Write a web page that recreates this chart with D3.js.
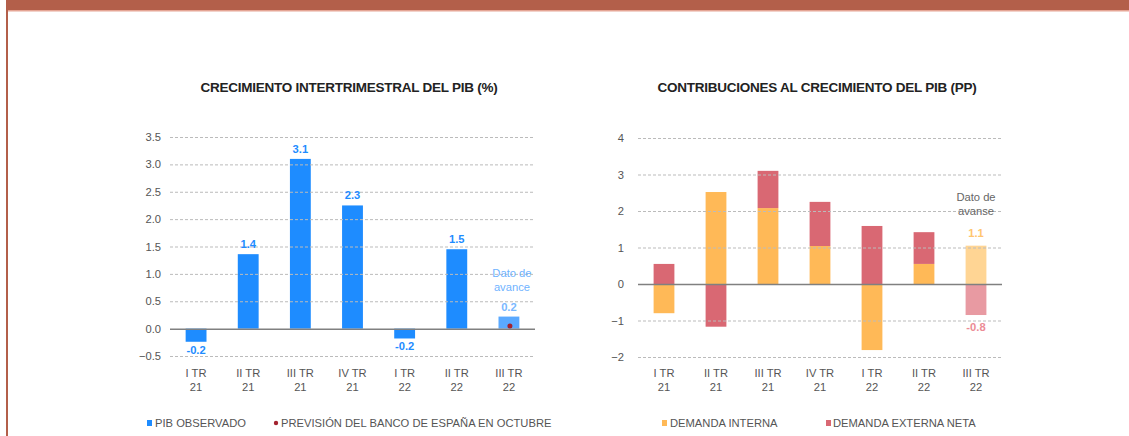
<!DOCTYPE html>
<html>
<head>
<meta charset="utf-8">
<script src="https://cdn.jsdelivr.net/npm/d3@7"></script>
<style>
  body { margin: 0; background: #fff; }
  svg { display: block; font-family: "Liberation Sans", Arial, sans-serif; }
</style>
</head>
<body>
<svg id="chart" width="1129" height="436"></svg>
<script>
// Quarters shared by both panels.
var quarters = [["I TR", "21"], ["II TR", "21"], ["III TR", "21"], ["IV TR", "21"],
                ["I TR", "22"], ["II TR", "22"], ["III TR", "22"]];

// Left panel: quarterly GDP growth (%).
var pibValues = [-0.24, 1.36, 3.1, 2.25, -0.18, 1.45, 0.22];
var pibLabels = ["-0.2", "1.4", "3.1", "2.3", "-0.2", "1.5", "0.2"];
var prevision = 0.05; // Bank of Spain October forecast for III TR 22
var leftTicks = [-0.5, 0, 0.5, 1.0, 1.5, 2.0, 2.5, 3.0, 3.5];

// Right panel: contributions (pp).
var demandaInterna = [-0.8, 2.52, 2.08, 1.04, -1.81, 0.55, 1.05];
var demandaExterna = [0.55, -1.17, 1.02, 1.21, 1.59, 0.87, -0.85];
var rightTicks = [-2, -1, 0, 1, 2, 3, 4];

var svg = d3.select("#chart");
var fs = 11.2; // base font size

// Frame: brown top band and left border.
svg.append("rect").attr("x", 6).attr("y", 0).attr("width", 1123).attr("height", 10).attr("fill", "#b35f4a");
svg.append("rect").attr("x", 8).attr("y", 10).attr("width", 1121).attr("height", 1.5).attr("fill", "#e5a595");
svg.append("rect").attr("x", 6).attr("y", 0).attr("width", 2).attr("height", 436).attr("fill", "#b35f4a");

var blue = "#1e8cff";
var orange = "#ffb957";
var red = "#d96873";

function panel(opts) {
  var g = svg.append("g");
  var x = d3.scaleBand()
      .domain(d3.range(quarters.length))
      .range([opts.x0, opts.x1])
      .paddingInner(0.6).paddingOuter(0.3);
  var y = d3.scaleLinear().domain(opts.domain).range(opts.yRange);

  // Title
  g.append("text")
      .attr("x", opts.titleX).attr("y", 92)
      .attr("text-anchor", "middle")
      .attr("font-size", 13.5).attr("font-weight", "bold")
      .attr("fill", "#222").attr("letter-spacing", -0.25)
      .text(opts.title);

  // Gridlines + tick labels
  var yAxis = d3.axisLeft(y).tickValues(opts.ticks).tickFormat(opts.fmt)
      .tickSize(-(opts.x1 - opts.x0)).tickPadding(opts.pad);
  var ax = g.append("g").attr("transform", "translate(" + opts.x0 + ",0)").call(yAxis);
  ax.select(".domain").remove();
  ax.selectAll(".tick line").attr("stroke", "#bbb").attr("stroke-dasharray", "3,2")
      .attr("stroke-width", 1);
  ax.selectAll(".tick text").attr("fill", "#555").attr("font-size", fs)
      .attr("font-family", "\"Liberation Sans\", Arial, sans-serif");
  ax.selectAll(".tick").filter(function(d) { return d === 0; }).select("line")
      .attr("stroke", "#808080").attr("stroke-dasharray", null).attr("stroke-width", 1.5);

  // X labels
  var xl = g.append("g");
  quarters.forEach(function(q, i) {
    var cx = x(i) + x.bandwidth() / 2;
    var t = xl.append("text")
        .attr("x", cx).attr("y", 377)
        .attr("text-anchor", "middle").attr("font-size", fs).attr("fill", "#555");
    t.append("tspan").attr("x", cx).text(q[0]);
    t.append("tspan").attr("x", cx).attr("dy", 14).text(q[1]);
  });
  return {g: g, x: x, y: y};
}

// ---------- Left panel ----------
var L = panel({
  x0: 170, x1: 535, domain: [-0.5, 3.5], yRange: [356, 137],
  ticks: leftTicks, fmt: d3.format(".1f"), pad: 9,
  title: "CRECIMIENTO INTERTRIMESTRAL DEL PIB (%)", titleX: 349
});

L.g.insert("g", "g").selectAll("rect").data(pibValues).join("rect")
    .attr("x", function(d, i) { return L.x(i); })
    .attr("width", L.x.bandwidth())
    .attr("y", function(d) { return L.y(Math.max(0, d)); })
    .attr("height", function(d) { return Math.abs(L.y(d) - L.y(0)); })
    .attr("fill", function(d, i) { return i === 6 ? "#5aa9ff" : blue; });
// Keep zero line over bars
L.g.selectAll(".tick").filter(function(d) { return d === 0; }).raise();

L.g.append("g").selectAll("text").data(pibValues).join("text")
    .attr("x", function(d, i) { return L.x(i) + L.x.bandwidth() / 2; })
    .attr("y", function(d) { return d >= 0 ? L.y(d) - 6 : L.y(d) + 12; })
    .attr("text-anchor", "middle").attr("font-size", fs).attr("font-weight", "bold")
    .attr("fill", function(d, i) { return i === 6 ? "#7ab8ff" : blue; })
    .text(function(d, i) { return pibLabels[i]; });

L.g.append("circle")
    .attr("cx", L.x(6) + L.x.bandwidth() / 2 + 1).attr("cy", L.y(prevision))
    .attr("r", 2.5).attr("fill", "#a3232f");

var lAnn = L.g.append("text").attr("text-anchor", "middle").attr("font-size", fs)
    .attr("fill", "#6fb3ff");
lAnn.append("tspan").attr("x", L.x(6) + L.x.bandwidth() / 2 + 3).attr("y", 277).text("Dato de");
lAnn.append("tspan").attr("x", L.x(6) + L.x.bandwidth() / 2 + 3).attr("y", 291).text("avance");

// Left legend
L.g.append("rect").attr("x", 147).attr("y", 420).attr("width", 5).attr("height", 6).attr("fill", blue);
L.g.append("text").attr("x", 155).attr("y", 427).attr("font-size", fs).attr("fill", "#555").text("PIB OBSERVADO");
L.g.append("circle").attr("cx", 276).attr("cy", 423).attr("r", 2.2).attr("fill", "#a3232f");
L.g.append("text").attr("x", 281).attr("y", 427).attr("font-size", fs).attr("fill", "#555")
    .text("PREVISIÓN DEL BANCO DE ESPAÑA EN OCTUBRE");

// ---------- Right panel ----------
var R = panel({
  x0: 638, x1: 1002, domain: [-2, 4], yRange: [357, 138],
  ticks: rightTicks, fmt: d3.format("d"), pad: 14,
  title: "CONTRIBUCIONES AL CRECIMIENTO DEL PIB (PP)", titleX: 817
});

// Stack each series: positives up from 0, negatives down from 0.
var stacked = [];
quarters.forEach(function(q, i) {
  var pos = 0, neg = 0;
  [["interna", demandaInterna[i]], ["externa", demandaExterna[i]]].forEach(function(s) {
    var v = s[1], y0, y1;
    if (v >= 0) { y0 = pos; y1 = pos + v; pos = y1; }
    else { y0 = neg; y1 = neg + v; neg = y1; }
    stacked.push({i: i, key: s[0], y0: y0, y1: y1});
  });
});

var rb = R.g.insert("g", "g");
rb.selectAll("rect").data(stacked).join("rect")
    .attr("x", function(d) { return R.x(d.i); })
    .attr("width", R.x.bandwidth())
    .attr("y", function(d) { return R.y(Math.max(d.y0, d.y1)); })
    .attr("height", function(d) { return Math.abs(R.y(d.y0) - R.y(d.y1)); })
    .attr("fill", function(d) {
      if (d.i === 6) return d.key === "interna" ? "#ffd594" : "#e89aa2";
      return d.key === "interna" ? orange : red;
    });
R.g.selectAll(".tick").filter(function(d) { return d === 0; }).raise();

var cx6 = R.x(6) + R.x.bandwidth() / 2;
R.g.append("text").attr("x", cx6).attr("y", R.y(demandaInterna[6]) - 9)
    .attr("text-anchor", "middle").attr("font-size", fs).attr("font-weight", "bold")
    .attr("fill", "#ffc56e").text("1.1");
R.g.append("text").attr("x", cx6).attr("y", R.y(demandaExterna[6]) + 16)
    .attr("text-anchor", "middle").attr("font-size", fs).attr("font-weight", "bold")
    .attr("fill", "#ec8c96").text("-0.8");
var rAnn = R.g.append("text").attr("text-anchor", "middle").attr("font-size", fs).attr("fill", "#666");
rAnn.append("tspan").attr("x", cx6).attr("y", 201).text("Dato de");
rAnn.append("tspan").attr("x", cx6).attr("y", 215).text("avanse");

// Right legend
R.g.append("rect").attr("x", 662).attr("y", 420).attr("width", 5).attr("height", 6).attr("fill", orange);
R.g.append("text").attr("x", 670).attr("y", 427).attr("font-size", fs).attr("fill", "#555").text("DEMANDA INTERNA");
R.g.append("rect").attr("x", 826).attr("y", 420).attr("width", 5).attr("height", 6).attr("fill", red);
R.g.append("text").attr("x", 833).attr("y", 427).attr("font-size", fs).attr("fill", "#555").text("DEMANDA EXTERNA NETA");
</script>
</body>
</html>
